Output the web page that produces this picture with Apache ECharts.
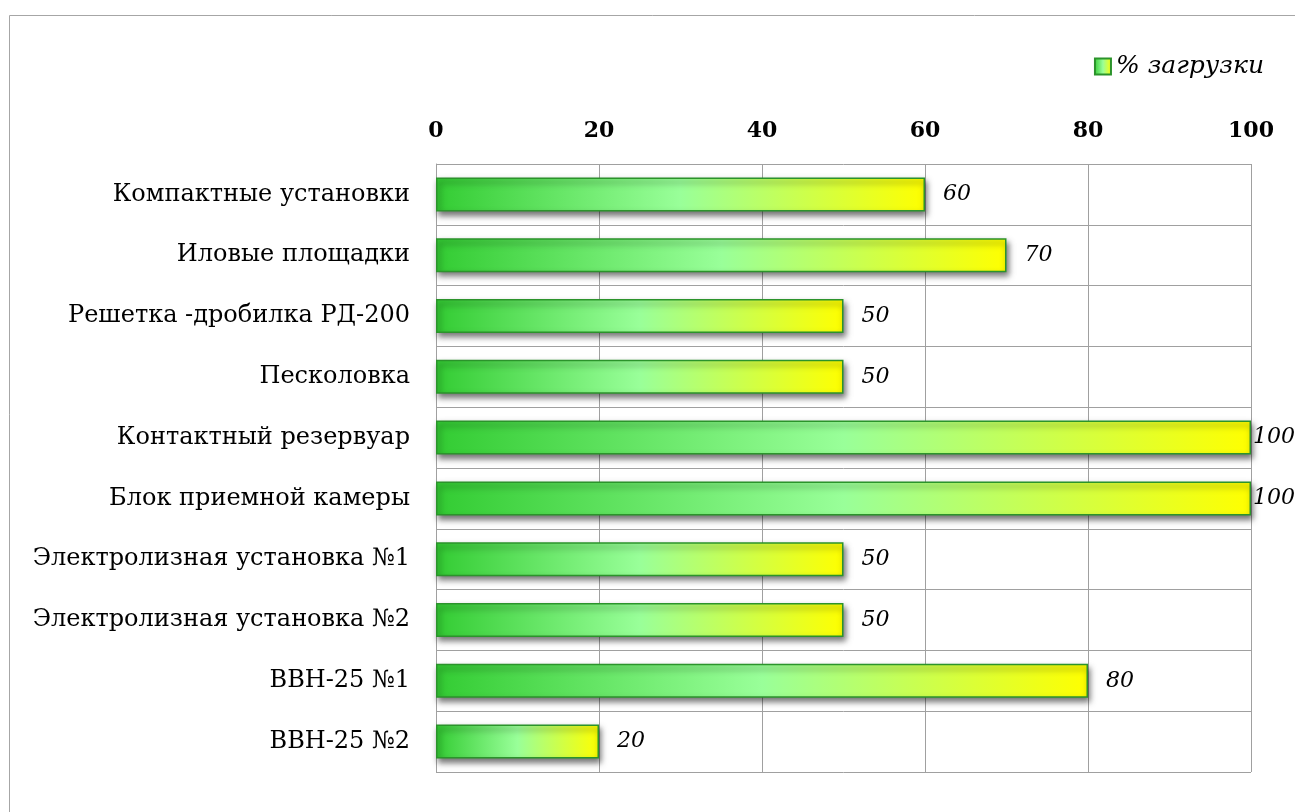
<!DOCTYPE html>
<html>
<head>
<meta charset="utf-8">
<script src="https://cdn.jsdelivr.net/npm/echarts@6/dist/echarts.min.js"></script>
<style>
  html, body { margin: 0; padding: 0; background: #fff; overflow: hidden; }
  #chart { width: 1295px; height: 812px; }
</style>
</head>
<body>
<div id="chart"></div>
<script>
// Equipment names (top to bottom) and their load in percent
const categories = [
  'Компактные установки',
  'Иловые площадки',
  'Решетка -дробилка РД-200',
  'Песколовка',
  'Контактный резервуар',
  'Блок приемной камеры',
  'Электролизная установка №1',
  'Электролизная установка №2',
  'ВВН-25 №1',
  'ВВН-25 №2'
];
const loadPercent = [60, 70, 50, 50, 100, 100, 50, 50, 80, 20];
const seriesName = '% загрузки';
const axisTicks = [0, 20, 40, 60, 80, 100];

const serif = 'DejaVu Serif';

const barFill = new echarts.graphic.LinearGradient(0, 0, 1, 0, [
  { offset: 0, color: '#33cc33' },
  { offset: 0.5, color: '#99ff99' },
  { offset: 1, color: '#ffff00' }
]);

const chart = echarts.init(document.getElementById('chart'), null, { renderer: 'canvas' });

chart.setOption({
  animation: false,
  backgroundColor: '#ffffff',
  graphic: [{
    type: 'rect',
    shape: { x: 9.5, y: 15.5, width: 1400, height: 900 },
    style: { fill: 'none', stroke: '#a6a6a6', lineWidth: 1 },
    silent: true
  }],
  legend: {
    data: [seriesName],
    right: 26,
    top: 49,
    itemWidth: 16,
    itemHeight: 16,
    itemGap: 10,
    icon: 'rect',
    textStyle: { fontFamily: serif, fontStyle: 'italic', fontSize: 25, color: '#000' }
  },
  grid: { left: 436, right: 44, top: 164, bottom: 40, containLabel: false },
  xAxis: {
    type: 'value',
    position: 'top',
    min: axisTicks[0],
    max: axisTicks[axisTicks.length - 1],
    interval: axisTicks[1] - axisTicks[0],
    axisLine: { show: false },
    axisTick: { show: false },
    splitLine: { show: true, lineStyle: { color: '#a0a0a0', width: 1 } },
    axisLabel: {
      margin: 22,
      fontFamily: serif,
      fontWeight: 'bold',
      fontSize: 22,
      color: '#000'
    }
  },
  yAxis: {
    type: 'category',
    data: categories,
    inverse: true,
    axisLine: { show: true, lineStyle: { color: '#a0a0a0', width: 1 } },
    axisTick: { show: false },
    splitLine: { show: true, lineStyle: { color: '#a0a0a0', width: 1 } },
    axisLabel: {
      margin: 26,
      fontFamily: serif,
      fontSize: 24,
      color: '#000'
    }
  },
  series: [{
    name: seriesName,
    type: 'bar',
    data: loadPercent.map(v => ({
      value: v,
      label: { distance: v >= 100 ? 2 : 18 }
    })),
    barWidth: 34,
    itemStyle: {
      color: barFill,
      borderColor: '#2b932b',
      borderWidth: 1.5,
      shadowColor: 'rgba(0,0,0,0.55)',
      shadowBlur: 6,
      shadowOffsetX: 2,
      shadowOffsetY: 4
    },
    label: {
      show: true,
      position: 'right',
      fontFamily: serif,
      fontStyle: 'italic',
      fontSize: 22,
      color: '#000'
    }
  }]
});
</script>
</body>
</html>
